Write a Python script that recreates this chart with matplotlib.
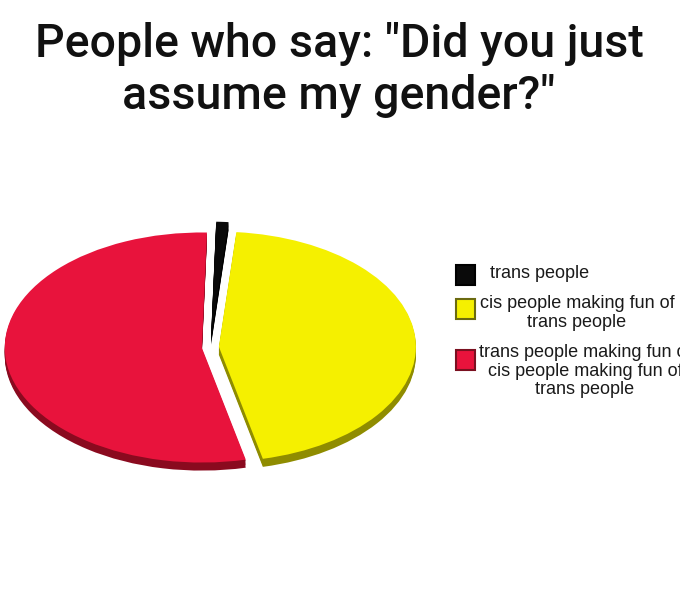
import matplotlib
matplotlib.use("Agg")
import matplotlib.pyplot as plt
from matplotlib.patches import Rectangle

# data
labels = ["trans people",
          "cis people making fun of\ntrans people",
          "trans people making fun of\ncis people making fun of\ntrans people"]
shares = [1.0, 45.0, 54.0]
colors = ["#0a0a0a", "#f5f000", "#e8133c"]
side_colors = ["#000000", "#8f8c00", "#8a0a1f"]
explode = [0.09, 0.045, 0.042]

title = 'People who say: "Did you just\nassume my gender?"'

fig = plt.figure(figsize=(6.8, 6.06), dpi=100)
fig.patch.set_facecolor("white")

# pie, stretched into an ellipse to look tilted
ax = fig.add_axes([0, 0.1914, 0.62, 0.462])
depth = 0.07
for k in range(6, 0, -1):
    ax.pie(shares, colors=side_colors, explode=explode, startangle=88.5,
           counterclock=False, center=(0, -depth * k / 6),
           wedgeprops=dict(linewidth=0))
ax.pie(shares, colors=colors, explode=explode, startangle=88.5,
       counterclock=False, wedgeprops=dict(linewidth=0))
ax.set_aspect("auto")
ax.set_xlim(-1.066, 1.074)
ax.set_ylim(-1.243, 1.191)
ax.axis("off")

# overlay in pixel coords for title and legend
ov = fig.add_axes([0, 0, 1, 1], zorder=-1)
ov.set_xlim(0, 680)
ov.set_ylim(606, 0)
ov.axis("off")
ov.text(339, 70, title, ha="center", va="center", fontsize=33.5,
        family="Roboto", fontweight="medium", linespacing=1.23,
        color="#111111")

box_y = [265, 299, 350]
text_x = [490, 577, 585]
text_y = [273, 313, 371]
text_ha = ["left", "center", "center"]
edge_cols = ["#000000", "#6b6a10", "#7a1020"]
for i in range(len(labels)):
    ov.add_patch(Rectangle((456, box_y[i]), 19, 20, facecolor=colors[i],
                           edgecolor=edge_cols[i], linewidth=1.5))
    ov.text(text_x[i], text_y[i], labels[i], ha=text_ha[i], va="center",
            fontsize=13, family="Liberation Sans", color="#1a1a1a",
            linespacing=1.15, multialignment="center")

fig.savefig("out.png", dpi=100)
